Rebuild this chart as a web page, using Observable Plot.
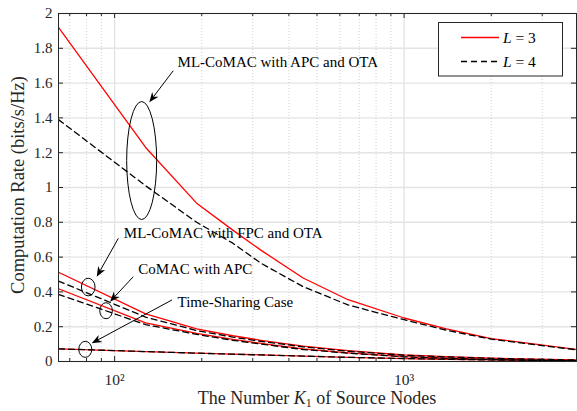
<!DOCTYPE html>
<html><head><meta charset="utf-8">
<script src="https://cdn.jsdelivr.net/npm/d3@7"></script>
<script src="https://cdn.jsdelivr.net/npm/@observablehq/plot@0.6"></script>
<style>
body{margin:0;background:#fff;}
#chart svg, #chart svg text{font-family:"Liberation Serif","Times New Roman",serif !important;}
</style></head><body><div id="chart"></div>
<script>
// ---- data ----
const K = [64, 128, 192, 256, 320, 448, 640, 1000, 1400, 2000, 4000];
const apcOtaL3 = [1.92, 1.23, 0.91, 0.755, 0.64, 0.48, 0.355, 0.25, 0.188, 0.132, 0.068];
const apcOtaL4 = [1.39, 1.01, 0.80, 0.68, 0.565, 0.43, 0.325, 0.24, 0.18, 0.128, 0.066];
const fpcOtaL3 = [0.513, 0.274, 0.188, 0.148, 0.122, 0.088, 0.062, 0.038, 0.028, 0.019, 0.009];
const fpcOtaL4 = [0.462, 0.255, 0.178, 0.14, 0.116, 0.084, 0.059, 0.036, 0.026, 0.018, 0.008];
const comacL3 = [0.418, 0.222, 0.162, 0.127, 0.104, 0.072, 0.05, 0.028, 0.019, 0.012, 0.004];
const comacL4 = [0.386, 0.212, 0.156, 0.122, 0.1, 0.069, 0.048, 0.027, 0.018, 0.011, 0.004];
const tsL3 = [0.073, 0.057, 0.048, 0.042, 0.038, 0.031, 0.024, 0.017, 0.013, 0.009, 0.004];
const tsL4 = [0.073, 0.057, 0.048, 0.042, 0.038, 0.031, 0.024, 0.017, 0.013, 0.009, 0.004];

const yTicks = [0, 0.2, 0.4, 0.6, 0.8, 1, 1.2, 1.4, 1.6, 1.8, 2];
const yTickLabels = ["0", "0.2", "0.4", "0.6", "0.8", "1", "1.2", "1.4", "1.6", "1.8", "2"];
const xMajor = [100, 1000];
const xMajorLabels = ["10\u00B2", "10\u00B3"];
const xMinor = [70, 80, 90, 200, 300, 400, 500, 600, 700, 800, 900, 2000, 3000];

const annText = ["ML-CoMAC with APC and OTA", "ML-CoMAC with FPC and OTA", "CoMAC with APC", "Time-Sharing Case"];
const annK = [165, 107.6, 120.6, 165];
const annRate = [1.718, 0.737, 0.533, 0.341];
const ellK = [124.5, 81.4, 93.8, 79.5];
const ellRate = [1.152, 0.425, 0.289, 0.067];
const arrK1 = [160, 103.4, 116.5, 158.5];
const arrR1 = [1.668, 0.705, 0.4845, 0.351];
const arrK2 = [132.3, 87.1, 96.8, 83.7];
const arrR2 = [1.487, 0.4845, 0.341, 0.102];

// ---- layout ----
const W = 577, H = 411, mL = 58, mR = 1, mT = 13, mB = 50;
const pw = W - mL - mR, ph = H - mT - mB;
const ellRx = [15, 6.8, 6.3, 6.5], ellRy = [59, 8.8, 8, 8];
const serif = '"Liberation Serif","Times New Roman",serif';

const toRows = (vals, name, L) => K.map((k, i) => ({K: k, rate: vals[i], curve: name, L}));
const rowsL3 = [
  ...toRows(apcOtaL3, "apc", 3), ...toRows(fpcOtaL3, "fpc", 3),
  ...toRows(comacL3, "comac", 3), ...toRows(tsL3, "ts", 3)];
const rowsL4 = [
  ...toRows(apcOtaL4, "apc", 4), ...toRows(fpcOtaL4, "fpc", 4),
  ...toRows(comacL4, "comac", 4), ...toRows(tsL4, "ts", 4)];
const annRows = annText.map((t, i) => ({t, K: annK[i], rate: annRate[i]}));

const ink = "#262626";
const chart = Plot.plot({
  width: W, height: H,
  marginLeft: mL, marginRight: mR, marginTop: mT, marginBottom: mB,
  style: {fontFamily: serif, fontSize: "15px", background: "white", color: ink},
  x: {type: "log", domain: [64, 3940]},
  y: {domain: [0, 2]},
  marks: [
    Plot.ruleY(yTicks, {y: d => d, stroke: "#e4e4e4", strokeWidth: 1.4}),
    Plot.ruleX(xMinor, {x: d => d, stroke: "#cccccc", strokeWidth: 0.9, strokeDasharray: "1,2"}),
    Plot.ruleX(xMajor, {x: d => d, stroke: "#e4e4e4", strokeWidth: 1.4}),
    Plot.line(rowsL3, {x: "K", y: "rate", z: "curve", stroke: "#ff0000", strokeWidth: 1.3, clip: true}),
    Plot.line(rowsL4, {x: "K", y: "rate", z: "curve", stroke: "#000000", strokeWidth: 1.3, strokeDasharray: "6,4", clip: true}),
    Plot.tickY(yTicks, {y: d => d, insetRight: pw - 5, stroke: ink}),
    Plot.tickY(yTicks, {y: d => d, insetLeft: pw - 5, stroke: ink}),
    Plot.tickX(xMajor, {x: d => d, insetTop: ph - 5, stroke: ink}),
    Plot.tickX(xMajor, {x: d => d, insetBottom: ph - 5, stroke: ink}),
    Plot.tickX(xMinor, {x: d => d, insetTop: ph - 3, stroke: ink}),
    Plot.tickX(xMinor, {x: d => d, insetBottom: ph - 3, stroke: ink}),
    Plot.axisY(yTicks, {tickSize: 0, tickPadding: 6, label: null, fontSize: 15,
      tickFormat: d => yTickLabels[yTicks.indexOf(d)]}),
    Plot.axisX(xMajor, {tickSize: 0, tickPadding: 12, label: null, fontSize: 15.5,
      tickFormat: d => xMajorLabels[xMajor.indexOf(d)]}),
    Plot.text(annRows, {x: "K", y: "rate", text: "t", textAnchor: "start", fontSize: 15, fill: "#000"}),
    Plot.frame({stroke: ink})
  ]
});
document.getElementById("chart").appendChild(chart);

// ---- annotations (ellipses & arrows) through the chart scales ----
const sx = chart.scale("x"), sy = chart.scale("y");
const svg = d3.select(chart);
const g = svg.append("g");
ellK.forEach((k, i) => {
  g.append("ellipse").attr("cx", sx.apply(k)).attr("cy", sy.apply(ellRate[i]))
    .attr("rx", ellRx[i]).attr("ry", ellRy[i]).attr("fill", "none").attr("stroke", "#000").attr("stroke-width", 1);
});
arrK1.forEach((k, i) => {
  const x1 = sx.apply(k), y1 = sy.apply(arrR1[i]);
  const x2 = sx.apply(arrK2[i]), y2 = sy.apply(arrR2[i]);
  const a = Math.atan2(y2 - y1, x2 - x1);
  const len = 10, hw = 4, notch = 7;
  const bx = x2 - len * Math.cos(a), by = y2 - len * Math.sin(a);
  const nx = x2 - notch * Math.cos(a), ny = y2 - notch * Math.sin(a);
  const px = -Math.sin(a), py = Math.cos(a);
  g.append("line").attr("x1", x1).attr("y1", y1).attr("x2", nx).attr("y2", ny)
    .attr("stroke", "#000").attr("stroke-width", 1);
  g.append("path").attr("d", `M${x2},${y2}L${bx + hw * px},${by + hw * py}L${nx},${ny}L${bx - hw * px},${by - hw * py}Z`)
    .attr("fill", "#000");
});

// ---- axis labels ----
const fx = mL + pw / 2;
const xl = svg.append("text").attr("x", fx).attr("y", 403.5).attr("text-anchor", "middle")
  .attr("font-family", serif).attr("font-size", 18).attr("fill", ink);
xl.append("tspan").text("The Number ");
xl.append("tspan").attr("font-style", "italic").text("K");
xl.append("tspan").attr("font-size", 12).attr("dy", 3).text("1");
xl.append("tspan").attr("dy", -3).text(" of Source Nodes");

svg.append("text").attr("transform", `translate(24,${mT + 172}) rotate(-90)`)
  .attr("text-anchor", "middle").attr("font-family", serif).attr("font-size", 18.5).attr("fill", ink)
  .text("Computation Rate (bits/s/Hz)");

// ---- legend ----
const lg = svg.append("g");
lg.append("rect").attr("x", 438.5).attr("y", 22.5).attr("width", 124).attr("height", 53.5)
  .attr("fill", "white").attr("stroke", ink).attr("stroke-width", 1);
const legendItems = [{L: "3", color: "#ff0000", dash: null}, {L: "4", color: "#000", dash: "6,4"}];
legendItems.forEach((it, i) => {
  const yy = 37.5 + i * 24;
  lg.append("line").attr("x1", 461).attr("x2", 499).attr("y1", yy).attr("y2", yy)
    .attr("stroke", it.color).attr("stroke-width", 1.3).attr("stroke-dasharray", it.dash);
  const t = lg.append("text").attr("x", 503).attr("y", yy + 5).attr("text-anchor", "start")
    .attr("font-family", serif).attr("font-size", 15.5).attr("fill", "#000");
  t.append("tspan").attr("font-style", "italic").text("L");
  t.append("tspan").text(" = " + it.L);
});
</script></body></html>
